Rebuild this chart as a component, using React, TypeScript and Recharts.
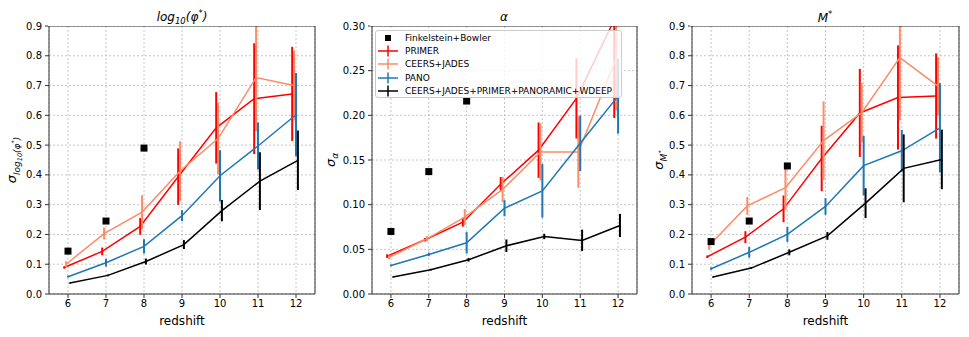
import React from 'react';
import {
  ComposedChart,
  Line,
  Scatter,
  XAxis,
  YAxis,
  CartesianGrid,
  ErrorBar,
  ReferenceLine,
  Legend,
} from 'recharts';

const redshift = [6, 7, 8, 9, 10, 11, 12];
const fbRedshift = [6, 7, 8];

// log10(phi*)
const phiFB = [0.144, 0.245, 0.49];
const phiPrimer = [0.089, 0.143, 0.227, 0.394, 0.558, 0.656, 0.672];
const phiPrimerErr = [0.004, 0.013, 0.028, 0.095, 0.12, 0.186, 0.158];
const phiCeers = [0.1, 0.203, 0.275, 0.413, 0.522, 0.727, 0.7];
const phiCeersErr = [0.01, 0.02, 0.057, 0.1, 0.12, 0.18, 0.117];
const phiPano = [0.058, 0.105, 0.16, 0.263, 0.397, 0.497, 0.602];
const phiPanoErr = [0.003, 0.013, 0.024, 0.018, 0.086, 0.079, 0.14];
const phiAll = [0.037, 0.0625, 0.109, 0.166, 0.28, 0.379, 0.449];
const phiAllErr = [0.002, 0.003, 0.01, 0.015, 0.036, 0.097, 0.1];

// alpha
const alphaFB = [0.07, 0.137, 0.216];
const alphaPrimer = [0.0424, 0.0607, 0.0804, 0.1229, 0.161, 0.219, 0.307];
const alphaPrimerErr = [0.002, 0.002, 0.005, 0.008, 0.031, 0.045, 0.11];
const alphaCeers = [0.041, 0.0618, 0.086, 0.117, 0.159, 0.159, 0.2636];
const alphaCeersErr = [0.002, 0.003, 0.009, 0.014, 0.032, 0.04, 0.058];
const alphaPano = [0.032, 0.0443, 0.0573, 0.096, 0.1154, 0.1687, 0.2215];
const alphaPanoErr = [0.001, 0.002, 0.012, 0.009, 0.03, 0.031, 0.042];
const alphaAll = [0.019, 0.0272, 0.0383, 0.054, 0.0644, 0.06, 0.0767];
const alphaAllErr = [0.0005, 0.001, 0.002, 0.007, 0.003, 0.012, 0.013];

// M*
const mFB = [0.176, 0.245, 0.43];
const mPrimer = [0.125, 0.191, 0.286, 0.455, 0.608, 0.66, 0.665];
const mPrimerErr = [0.004, 0.02, 0.045, 0.11, 0.148, 0.175, 0.143];
const mCeers = [0.163, 0.296, 0.357, 0.515, 0.609, 0.794, 0.698];
const mCeersErr = [0.015, 0.03, 0.075, 0.132, 0.1, 0.21, 0.098];
const mPano = [0.085, 0.14, 0.2, 0.294, 0.431, 0.481, 0.558];
const mPanoErr = [0.004, 0.018, 0.025, 0.028, 0.1, 0.07, 0.15];
const mAll = [0.057, 0.087, 0.14, 0.195, 0.305, 0.422, 0.452];
const mAllErr = [0.002, 0.003, 0.01, 0.013, 0.05, 0.114, 0.1];

const ticks09 = [0, 0.1, 0.2, 0.3, 0.4, 0.5, 0.6, 0.7, 0.8, 0.9];
const ticks03 = [0, 0.05, 0.1, 0.15, 0.2, 0.25, 0.3];

const RED = '#ff0000';
const ORANGE = '#fa8c68';
const BLUE = '#1f77b4';
const BLACK = '#000000';
const FONT = '"DejaVu Sans", sans-serif';

const legendItems = [
  { name: 'Finkelstein+Bowler', color: BLACK, square: true },
  { name: 'PRIMER', color: RED },
  { name: 'CEERS+JADES', color: ORANGE },
  { name: 'PANO', color: BLUE },
  { name: 'CEERS+JADES+PRIMER+PANORAMIC+WDEEP', color: BLACK },
];

const mk = (vals: number[], errs: number[], dx: number) =>
  vals.map((v, i) => ({ z: redshift[i] + dx, v, e: errs[i] }));
const mkFB = (vals: number[]) => vals.map((v, i) => ({ z: fbRedshift[i], v }));

const Square = (p: any) => (
  <rect x={p.cx - 3.5} y={p.cy - 3.5} width={7} height={7} fill="#000" />
);

const LegendBox = () => (
  <div
    style={{
      border: '1px solid #cccccc',
      borderRadius: 3,
      background: 'rgba(255,255,255,0.8)',
      fontFamily: FONT,
      fontSize: 9,
      color: '#000',
      width: 247,
      boxSizing: 'border-box',
    }}
  >
    {legendItems.map((it) => (
      <div key={it.name} style={{ display: 'flex', alignItems: 'center', height: 13.3, paddingLeft: 2 }}>
        <svg width={20} height={12} style={{ marginRight: 7 }}>
          {it.square ? (
            <rect x={7} y={3} width={6} height={6} fill={it.color} />
          ) : (
            <g stroke={it.color}>
              <line x1={0} y1={6} x2={20} y2={6} strokeWidth={1.5} />
              <line x1={10} y1={0.5} x2={10} y2={11.5} strokeWidth={1.5} />
            </g>
          )}
        </svg>
        <span>{it.name}</span>
      </div>
    ))}
  </div>
);

interface PanelProps {
  left: number;
  width: number;
  yW: number;
  right: number;
  ymax: number;
  ticks: number[];
  dec: number;
  fb: number[];
  primer: number[];
  primerErr: number[];
  ceers: number[];
  ceersErr: number[];
  pano: number[];
  panoErr: number[];
  all: number[];
  allErr: number[];
  legend?: boolean;
}

const Panel: React.FC<PanelProps> = (p) => {
  const series = [
    { name: 'PRIMER', color: RED, data: mk(p.primer, p.primerErr, -0.1) },
    { name: 'CEERS+JADES', color: ORANGE, data: mk(p.ceers, p.ceersErr, -0.05) },
    { name: 'PANO', color: BLUE, data: mk(p.pano, p.panoErr, 0) },
    { name: 'ALL', color: BLACK, data: mk(p.all, p.allErr, 0.05) },
  ];
  return (
    <div style={{ position: 'absolute', left: p.left, top: 0 }}>
      <ComposedChart width={p.width} height={337} margin={{ top: 26, right: p.right, bottom: 0, left: 0 }}>
        <CartesianGrid stroke="#b8b8b8" strokeDasharray="2 2" strokeWidth={0.8} />
        <XAxis
          type="number"
          dataKey="z"
          domain={[5.5, 12.5]}
          ticks={redshift}
          allowDataOverflow
          height={43}
          tickSize={4}
          tickMargin={2}
          stroke="#333"
          tick={{ fontSize: 10, fill: '#000', fontFamily: FONT }}
          label={{ value: 'redshift', position: 'insideBottom', offset: 12, fontSize: 12, fill: '#000', fontFamily: FONT }}
        />
        <YAxis
          type="number"
          domain={[0, p.ymax]}
          ticks={p.ticks}
          allowDataOverflow
          width={p.yW}
          tickSize={4}
          tickMargin={3}
          stroke="#333"
          tickFormatter={(v: number) => v.toFixed(p.dec)}
          tick={{ fontSize: 10, fill: '#000', fontFamily: FONT }}
        />
        <Scatter data={mkFB(p.fb)} dataKey="v" shape={Square} isAnimationActive={false} />
        {series.map((s) => (
          <Line
            key={s.name}
            data={s.data}
            dataKey="v"
            stroke={s.color}
            strokeWidth={1.5}
            dot={false}
            isAnimationActive={false}
          >
            <ErrorBar dataKey="e" width={0} stroke={s.color} strokeWidth={2} direction="y" />
          </Line>
        ))}
        <ReferenceLine x={12.5} stroke="#333" />
        <ReferenceLine y={p.ymax} stroke="#333" />
        {p.legend && (
          <Legend
            layout="vertical"
            align="center"
            verticalAlign="middle"
            wrapperStyle={{ left: 55, top: 30, width: 247 }}
            content={() => <LegendBox />}
          />
        )}
      </ComposedChart>
    </div>
  );
};

const txt: React.CSSProperties = { position: 'absolute', fontFamily: FONT, color: '#000', whiteSpace: 'nowrap' };

// white band above each plot box, hides error bars that run past the top of the axes
const TopMask = ({ x, w }: { x: number; w: number }) => (
  <div style={{ position: 'absolute', left: x, top: 0, width: w, height: 25.5, background: '#fff' }} />
);

const Title = ({ x, children }: { x: number; children: React.ReactNode }) => (
  <div style={{ ...txt, left: x, top: 17, transform: 'translate(-50%, -50%)', fontSize: 12, fontStyle: 'italic', lineHeight: 1 }}>
    {children}
  </div>
);

const YLabel = ({ x, children }: { x: number; children: React.ReactNode }) => (
  <div
    style={{
      ...txt,
      left: x,
      top: 160,
      transform: 'translate(-50%, -50%) rotate(-90deg)',
      fontSize: 13,
      fontStyle: 'italic',
      lineHeight: 1,
    }}
  >
    {children}
  </div>
);

export default function App() {
  return (
    <div style={{ position: 'absolute', left: 0, top: 0, width: 969, height: 337, background: '#fff' }}>
      <Panel
        left={0} width={320} yW={49} right={5} ymax={0.9} ticks={ticks09} dec={1}
        fb={phiFB} primer={phiPrimer} primerErr={phiPrimerErr} ceers={phiCeers} ceersErr={phiCeersErr}
        pano={phiPano} panoErr={phiPanoErr} all={phiAll} allErr={phiAllErr}
      />
      <Panel
        left={320} width={320} yW={52} right={3} ymax={0.3} ticks={ticks03} dec={2}
        fb={alphaFB} primer={alphaPrimer} primerErr={alphaPrimerErr} ceers={alphaCeers} ceersErr={alphaCeersErr}
        pano={alphaPano} panoErr={alphaPanoErr} all={alphaAll} allErr={alphaAllErr} legend
      />
      <Panel
        left={640} width={329} yW={52} right={10} ymax={0.9} ticks={ticks09} dec={1}
        fb={mFB} primer={mPrimer} primerErr={mPrimerErr} ceers={mCeers} ceersErr={mCeersErr}
        pano={mPano} panoErr={mPanoErr} all={mAll} allErr={mAllErr}
      />
      <TopMask x={48} w={270} />
      <TopMask x={370} w={270} />
      <TopMask x={690} w={272} />
      <Title x={182}>
        log<sub style={{ fontSize: 8.5 }}>10</sub>(φ<sup style={{ fontSize: 8.5 }}>*</sup>)
      </Title>
      <Title x={504}>α</Title>
      <Title x={825}>
        M<sup style={{ fontSize: 8.5 }}>*</sup>
      </Title>
      <YLabel x={14}>
        σ
        <sub style={{ fontSize: 9 }}>
          log<sub style={{ fontSize: 6.5 }}>10</sub>(φ<sup style={{ fontSize: 6.5 }}>*</sup>)
        </sub>
      </YLabel>
      <YLabel x={332}>
        σ<sub style={{ fontSize: 9 }}>α</sub>
      </YLabel>
      <YLabel x={660}>
        σ
        <sub style={{ fontSize: 9 }}>
          M<sup style={{ fontSize: 6.5 }}>*</sup>
        </sub>
      </YLabel>
    </div>
  );
}
